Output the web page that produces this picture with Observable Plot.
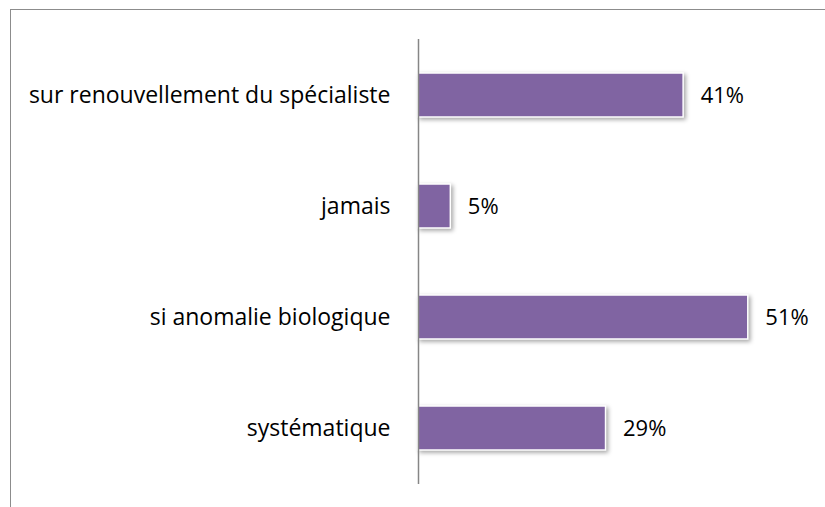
<!DOCTYPE html>
<html>
<head>
<meta charset="utf-8">
<script src="https://cdn.jsdelivr.net/npm/d3@7"></script>
<script src="https://cdn.jsdelivr.net/npm/@observablehq/plot@0.6"></script>
<style>
  html, body { margin: 0; padding: 0; background: #fff; }
  #wrap { position: relative; width: 825px; height: 507px; overflow: hidden; }
  #frame { position: absolute; left: 10px; top: 9px; right: -5px; bottom: -5px;
           border-top: 1.5px solid #8c8c8c; border-left: 1.5px solid #8c8c8c; pointer-events: none; }
  svg { display: block; }
</style>
</head>
<body>
<div id="wrap"><div id="frame"></div></div>
<script>
const categories = ["sur renouvellement du spécialiste", "jamais", "si anomalie biologique", "systématique"];
const values = [41, 5, 51, 29];
const valueLabels = ["41%", "5%", "51%", "29%"];

const data = categories.map((c, i) => ({category: c, value: values[i], label: valueLabels[i]}));

const chart = Plot.plot({
  width: 825,
  height: 507,
  marginLeft: 418,
  marginRight: 19,
  marginTop: 39,
  marginBottom: 23,
  style: {fontFamily: "'Open Sans', sans-serif", fontSize: "22px", color: "#000", background: "transparent"},
  x: {domain: [0, 60], axis: null},
  y: {domain: categories, paddingInner: 0.6, paddingOuter: 0.3, align: 0.5, label: null},
  marks: [
    Plot.barX(data, {
      x: "value", y: "category", fill: "#8064a2", stroke: "#fff", strokeWidth: 1.5,
      imageFilter: "drop-shadow(2px 2px 2px rgba(0,0,0,0.35))"
    }),
    Plot.text(data, {
      x: "value", y: "category", text: "label", dx: 17, textAnchor: "start",
      fill: "#000", fontSize: 22
    }),
    Plot.ruleX([0], {stroke: "#868686", strokeWidth: 1.5}),
    Plot.axisY({tickSize: 0, tickPadding: 28, fontSize: 23, label: null, fill: "#000"})
  ]
});
document.getElementById("wrap").prepend(chart);
</script>
</body>
</html>
